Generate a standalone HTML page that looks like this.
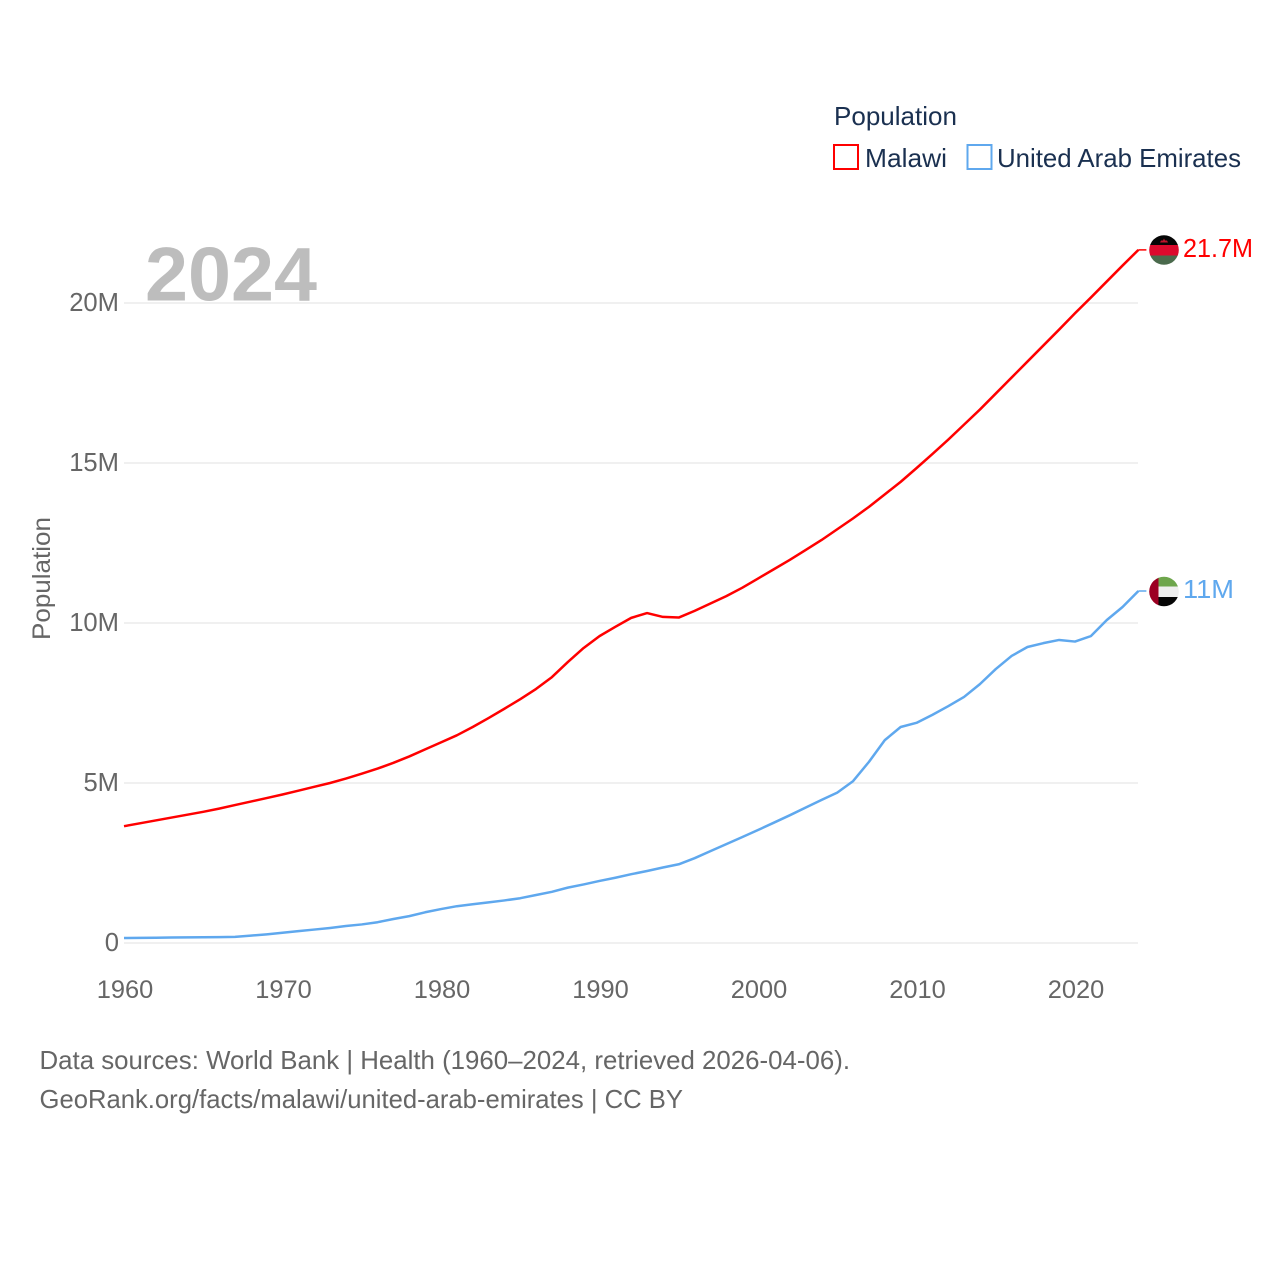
<!DOCTYPE html>
<html lang="en">
<head>
<meta charset="utf-8">
<title>Population: Malawi and United Arab Emirates</title>
<style>
html,body{margin:0;padding:0;background:#fff;}
svg{display:block;font-family:"Liberation Sans",sans-serif;}
</style>
</head>
<body>
<svg id="chart" xmlns="http://www.w3.org/2000/svg" width="1280" height="1280" viewBox="0 0 1280 1280">
  <defs>
    <clipPath id="clip-malawi"><circle cx="1164" cy="250" r="14.8"/></clipPath>
    <clipPath id="clip-uae"><circle cx="1164" cy="591.5" r="14.8"/></clipPath>
  </defs>
  <rect width="1280" height="1280" fill="#fff"/>
  <g id="grid"></g>
  <text x="145" y="300.500" font-size="76" font-weight="700" fill="#bdbdbd" textLength="172" lengthAdjust="spacingAndGlyphs">2024</text>
  <g id="y-ticks"></g>
  <g id="x-ticks"></g>
  <text transform="translate(50,640) rotate(-90)" font-size="25" fill="#666" textLength="123" lengthAdjust="spacingAndGlyphs">Population</text>
  <g id="series"></g>

  <g>
    <text x="834" y="125" font-size="26" fill="#1a3050" textLength="123" lengthAdjust="spacingAndGlyphs">Population</text>
    <g>
      <rect x="834" y="145" width="24" height="24" fill="#fff" stroke="#ff0000" stroke-width="2"/>
      <text x="865" y="167" font-size="26" fill="#1a3050" textLength="82" lengthAdjust="spacingAndGlyphs">Malawi</text>
    </g>
    <g>
      <rect x="967.500" y="145" width="24" height="24" fill="#fff" stroke="#5fa8ee" stroke-width="2"/>
      <text x="997" y="167" font-size="26" fill="#1a3050" textLength="244" lengthAdjust="spacingAndGlyphs">United Arab Emirates</text>
    </g>
  </g>

  <g clip-path="url(#clip-malawi)">
    <rect x="1149" y="235" width="30" height="10" fill="#060606"/>
    <rect x="1149" y="245" width="30" height="10.500" fill="#dc0a2d"/>
    <rect x="1149" y="255.500" width="30" height="10" fill="#4a6a4c"/>
    <path d="M1160 242.500 L1168 242.500 L1167 240.500 L1165 240.500 L1164 238.500 L1163 240.500 L1161 240.500 Z" fill="#c0142c"/>
  </g>
  <g clip-path="url(#clip-uae)">
    <rect x="1158" y="576" width="21" height="10.500" fill="#6ea64c"/>
    <rect x="1158" y="586.500" width="21" height="10.500" fill="#efefef"/>
    <rect x="1158" y="597" width="21" height="10" fill="#060606"/>
    <rect x="1149" y="576" width="9.500" height="31" fill="#9c0022"/>
  </g>

  <text x="1183" y="257" font-size="26" fill="#ff0000" textLength="70" lengthAdjust="spacingAndGlyphs">21.7M</text>
  <text x="1183" y="598" font-size="26" fill="#5fa8ee" textLength="51" lengthAdjust="spacingAndGlyphs">11M</text>

  <text x="39.500" y="1069" font-size="26" fill="#666" textLength="810.500" lengthAdjust="spacingAndGlyphs">Data sources: World Bank | Health (1960–2024, retrieved 2026-04-06).</text>
  <text x="39.500" y="1108" font-size="26" fill="#666" textLength="643.500" lengthAdjust="spacingAndGlyphs">GeoRank.org/facts/malawi/united-arab-emirates | CC BY</text>
</svg>
<script>
const firstYear = 1960;
const xTickYears = [1960, 1970, 1980, 1990, 2000, 2010, 2020];
const yTickValues = [0, 5, 10, 15, 20];
const yTickLabels = ["0", "5M", "10M", "15M", "20M"];
const malawiValues = [3.65,3.74,3.83,3.92,4.01,4.10,4.20,4.31,4.42,4.53,4.64,4.76,4.88,5.00,5.14,5.29,5.45,5.63,5.83,6.05,6.27,6.49,6.75,7.03,7.32,7.62,7.94,8.31,8.78,9.22,9.59,9.88,10.16,10.31,10.19,10.17,10.38,10.61,10.84,11.10,11.39,11.68,11.97,12.28,12.59,12.93,13.27,13.63,14.02,14.41,14.84,15.28,15.73,16.20,16.67,17.17,17.67,18.17,18.67,19.17,19.68,20.17,20.67,21.17,21.66];
const uaeValues = [0.156,0.16,0.165,0.17,0.175,0.18,0.185,0.19,0.23,0.27,0.32,0.37,0.42,0.47,0.53,0.58,0.65,0.75,0.84,0.96,1.06,1.15,1.21,1.27,1.33,1.40,1.50,1.60,1.73,1.83,1.94,2.04,2.15,2.25,2.36,2.46,2.65,2.87,3.09,3.31,3.53,3.76,3.99,4.23,4.47,4.70,5.06,5.66,6.34,6.75,6.88,7.13,7.40,7.69,8.09,8.56,8.97,9.25,9.37,9.47,9.42,9.59,10.09,10.50,11.00];

const NS = "http://www.w3.org/2000/svg";
const xScale = (year) => 124 + (year - 1960) * 15.85;
const yScale = (value) => 943 - value * 32;

const grid = document.getElementById("grid");
const yTicks = document.getElementById("y-ticks");
const xTicks = document.getElementById("x-ticks");
const series = document.getElementById("series");

yTickValues.forEach((value, i) => {
  const line = document.createElementNS(NS, "line");
  
  
  line.setAttribute("x1", 124);
  line.setAttribute("x2", 1138);
  line.setAttribute("y1", yScale(value));
  line.setAttribute("y2", yScale(value));
  line.setAttribute("stroke", "#ececec");
  line.setAttribute("stroke-width", 1.5);
  grid.appendChild(line);

  const label = document.createElementNS(NS, "text");
  
  
  label.setAttribute("x", 119);
  label.setAttribute("y", yScale(value) + 8);
  label.setAttribute("text-anchor", "end");
  label.setAttribute("font-size", 25.6);
  label.setAttribute("fill", "#666");
  label.textContent = yTickLabels[i];
  yTicks.appendChild(label);
});

xTickYears.forEach((year) => {
  const label = document.createElementNS(NS, "text");
  
  
  label.setAttribute("x", xScale(year) + 1);
  label.setAttribute("y", 998);
  label.setAttribute("text-anchor", "middle");
  label.setAttribute("font-size", 25.4);
  label.setAttribute("fill", "#666");
  label.textContent = String(year);
  xTicks.appendChild(label);
});

function drawSeries(values, color, lineName, leaderName) {
  const d = values.map((v, i) => (i ? "L" : "M") + xScale(firstYear + i).toFixed(2) + " " + yScale(v).toFixed(2)).join(" ");
  const path = document.createElementNS(NS, "path");
  
  
  path.setAttribute("d", d);
  path.setAttribute("fill", "none");
  path.setAttribute("stroke", color);
  path.setAttribute("stroke-width", 2.5);
  path.setAttribute("stroke-linejoin", "round");
  series.appendChild(path);

  const lastIndex = values.length - 1;
  const endX = xScale(firstYear + lastIndex);
  const endY = yScale(values[lastIndex]);
  const leader = document.createElementNS(NS, "line");
  
  
  leader.setAttribute("x1", endX);
  leader.setAttribute("x2", endX + 8);
  leader.setAttribute("y1", endY);
  leader.setAttribute("y2", endY);
  leader.setAttribute("stroke", color);
  leader.setAttribute("stroke-width", 1.5);
  series.appendChild(leader);
}

drawSeries(malawiValues, "#ff0000", "line-malawi", "leader-malawi");
drawSeries(uaeValues, "#5fa8ee", "line-uae", "leader-uae");
</script>
</body>
</html>
